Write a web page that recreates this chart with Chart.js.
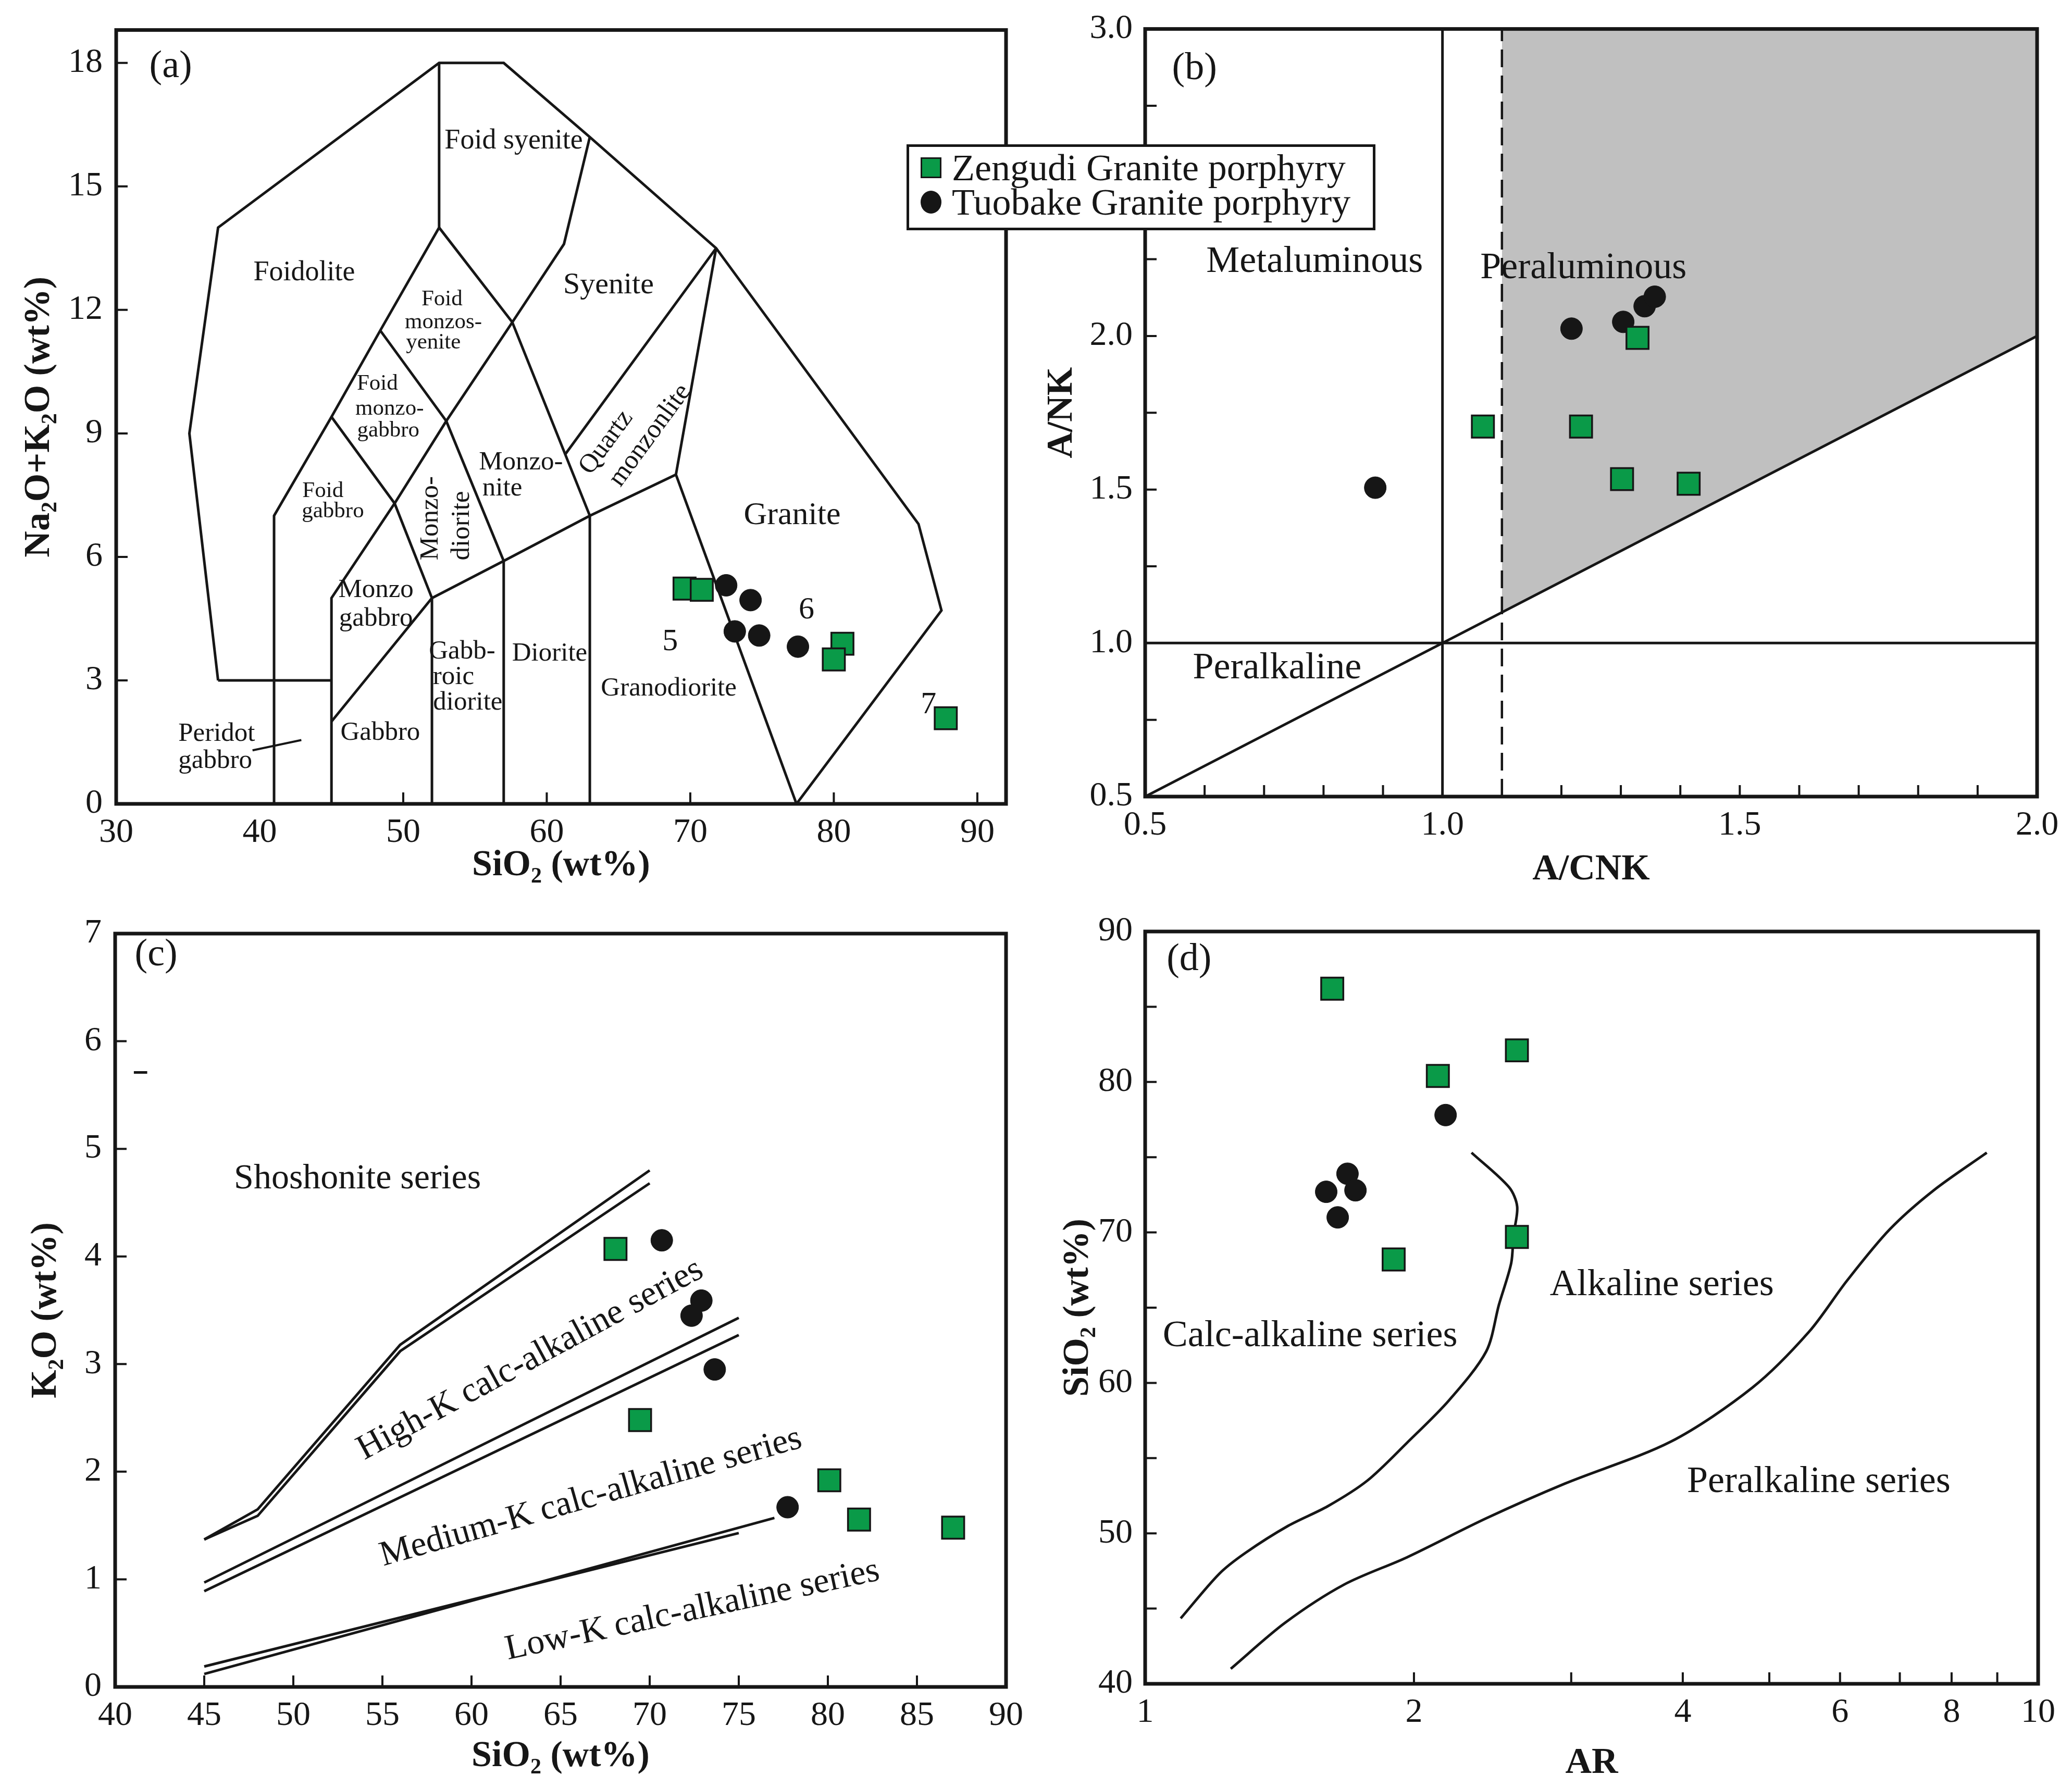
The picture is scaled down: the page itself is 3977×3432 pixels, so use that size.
<!DOCTYPE html>
<html>
<head>
<meta charset="utf-8">
<script src="https://cdn.jsdelivr.net/npm/chart.js@4.4.1/dist/chart.umd.min.js"></script>
<style>
  html, body { margin: 0; padding: 0; background: #fff; }
  body { width: 3977px; height: 3432px; position: relative; overflow: hidden; font-family: "Liberation Serif", "Times New Roman", serif; color: #161616; }
  .panel { position: absolute; }
  #legend { position: absolute; left: 1740px; top: 277px; width: 900px; height: 165px; box-sizing: border-box;
            border: 5px solid #161616; background: #fff; padding-top: 7px; }
  #legend .row { height: 66px; display: flex; align-items: center; font-size: 72px; white-space: nowrap; }
  #legend .mk { width: 40px; height: 40px; margin: 0 20px 0 22px; box-sizing: border-box; flex: none; }
  #legend .sq { background: #0a9a48; border: 3px solid #161616; }
  #legend .ci { background: #161616; border-radius: 50%; height: 44px; }
</style>
</head>
<body>
<div class="panel" style="left:0;top:0"><canvas id="chA" width="1988" height="1716"></canvas></div>
<div class="panel" style="left:1988px;top:0"><canvas id="chB" width="1989" height="1716"></canvas></div>
<div class="panel" style="left:0;top:1716px"><canvas id="chC" width="1988" height="1716"></canvas></div>
<div class="panel" style="left:1988px;top:1716px"><canvas id="chD" width="1989" height="1716"></canvas></div>
<div id="legend">
  <div class="row"><span class="mk sq"></span>Zengudi Granite porphyry</div>
  <div class="row"><span class="mk ci"></span>Tuobake Granite porphyry</div>
</div>
<script>
// ---- (a) TAS: SiO2 vs Na2O+K2O ----
const tasZengudiSiO2 = [69.6, 70.8, 80.6, 80.0, 87.8];
const tasZengudiAlk  = [5.23, 5.20, 3.89, 3.51, 2.08];
const tasTuobakeSiO2 = [72.5, 74.2, 73.1, 74.8, 77.5];
const tasTuobakeAlk  = [5.31, 4.95, 4.19, 4.09, 3.82];
const tasOutline = [[37.1,3.0],[35.1,9.0],[37.1,14.0],[52.5,18.0],[57.0,18.0],[63.0,16.2],[71.8,13.5],[85.9,6.8],[87.5,4.7],[77.4,0]];
const tasFields = [
  [[37.1,3.0],[45,3.0]],
  [[41,0],[41,7],[45,9.4],[48.4,11.5],[52.5,14],[52.5,18]],
  [[52.5,14],[57.6,11.7],[61.2,13.6],[63,16.2]],
  [[48.4,11.5],[53,9.3],[57.6,11.7]],
  [[45,9.4],[49.4,7.3],[53,9.3]],
  [[49.4,7.3],[45,5],[45,0]],
  [[49.4,7.3],[52,5],[52,0]],
  [[45,2],[52,5],[57,5.9],[63,7],[69,8],[77.4,0]],
  [[53,9.3],[57,5.9],[57,0]],
  [[57.6,11.7],[63,7],[63,0]],
  [[61.3,8.5],[71.8,13.5]],
  [[69,8],[71.8,13.5]]
];
const tasPointer = [[39.5,1.3],[42.9,1.55]];
const tasXTicks = [30, 40, 50, 60, 70, 80, 90];
const tasYTicks = [0, 3, 6, 9, 12, 15, 18];

// ---- (b) A/CNK vs A/NK ----
const ancZengudiACNK = [1.068, 1.233, 1.328, 1.302, 1.414];
const ancZengudiANK  = [1.705, 1.705, 1.994, 1.534, 1.519];
const ancTuobakeACNK = [0.887, 1.217, 1.304, 1.340, 1.357];
const ancTuobakeANK  = [1.506, 2.024, 2.046, 2.097, 2.128];
const ancDiagonal = [[0.5,0.5],[2.0,2.0]];
const ancShadeEdge = [[1.1,1.1],[2.0,2.0]];
const ancHorizontal = [[0.5,1.0],[2.0,1.0]];
const ancVertical = [[1.0,0.5],[1.0,3.0]];
const ancDashed = [[1.1,0.5],[1.1,3.0]];
const ancXTicks = [0.5, 1.0, 1.5, 2.0];
const ancYTicks = [0.5, 1.0, 1.5, 2.0, 2.5, 3.0];

// ---- (c) SiO2 vs K2O ----
const kZengudiSiO2 = [68.08, 69.46, 80.08, 81.75, 87.03];
const kZengudiK2O  = [4.07, 2.48, 1.92, 1.555, 1.48];
const kTuobakeSiO2 = [70.68, 72.90, 72.35, 73.65, 77.74];
const kTuobakeK2O  = [4.15, 3.59, 3.45, 2.95, 1.67];
const kSeriesLines = [
  [[45,1.37],[48,1.65],[56,3.18],[70,4.80]],
  [[45,1.37],[48,1.59],[56,3.12],[70,4.68]],
  [[45,0.97],[75,3.43]],
  [[45,0.89],[75,3.27]],
  [[45,0.19],[75,1.43]],
  [[45,0.12],[77,1.57]]
];
const kDash = [[41.05,5.71],[41.8,5.71]];
const kXTicks = [40, 45, 50, 55, 60, 65, 70, 75, 80, 85, 90];
const kYTicks = [0, 1, 2, 3, 4, 5, 6, 7];

// ---- (d) AR vs SiO2 ----
const arZengudi     = [1.62, 2.127, 2.608, 2.608, 1.898];
const arZengudiSiO2 = [86.2, 80.4, 82.1, 69.7, 68.2];
const arTuobake     = [2.17, 1.595, 1.685, 1.72, 1.643];
const arTuobakeSiO2 = [77.8, 72.7, 73.9, 72.8, 71.0];
const arAlkalineCurve = [[1.096,44.35],[1.21,47.3],[1.295,48.7],[1.446,50.5],[1.601,51.8],[1.773,53.5],[1.963,56.0],[2.19,58.85],[2.41,62.1],[2.49,65.2],[2.57,67.96],[2.585,69.8],[2.61,71.7],[2.556,73.0],[2.32,75.3]];
const arPeralkCurve = [[1.247,41.0],[1.434,44.05],[1.671,46.6],[1.963,48.4],[2.41,51.0],[2.95,53.3],[3.88,56.1],[4.79,59.7],[5.54,63.4],[6.11,66.8],[6.82,70.2],[7.64,72.8],[8.76,75.3]];
const arXTicks = [1, 2, 4, 6, 8, 10];
const arYTicks = [40, 50, 60, 70, 80, 90];

const FONT = '"Liberation Serif", "Times New Roman", serif';
const INK = '#161616';
const GREEN = '#0a9a48';

function line(pts, extra) {
  return Object.assign({
    data: pts.map(p => ({ x: p[0], y: p[1] })),
    showLine: true, pointRadius: 0, pointHoverRadius: 0,
    borderColor: INK, borderWidth: 5, fill: false, tension: 0, order: 2
  }, extra || {});
}
function markers(xs, ys, square) {
  return {
    data: xs.map((x, i) => ({ x: x, y: ys[i] })),
    pointStyle: square ? 'rect' : 'circle',
    pointRadius: square ? 30 : 21,
    backgroundColor: square ? GREEN : INK,
    borderColor: INK, borderWidth: square ? 3.5 : 1,
    showLine: false, order: 0
  };
}
function axis(o) {
  return {
    type: o.type || 'linear', min: o.min, max: o.max,
    grid: { display: false }, border: { display: false },
    afterBuildTicks: s => { s.ticks = o.ticks.map(v => ({ value: v })); },
    afterFit: s => { if (s.isHorizontal()) s.height = o.size; else s.width = o.size; },
    ticks: { color: INK, font: { family: FONT, size: 66 }, padding: o.pad, autoSkip: false, maxRotation: 0,
             callback: o.fmt || (v => String(v)) },
    title: { display: true, text: o.title, color: INK, font: { family: FONT, size: 70, weight: 'bold' }, padding: o.tpad }
  };
}

// field names, drawn after the grey fill so they stay visible
const notesPlugin = {
  id: 'notes',
  afterDatasetsDraw(chart, args, opts) {
    const { ctx } = chart, x = chart.scales.x, y = chart.scales.y;
    ctx.save();
    ctx.fillStyle = INK; ctx.textAlign = 'center'; ctx.textBaseline = 'middle';
    (opts.items || []).forEach(n => {
      let ang = 0;
      if (n.along) {
        const a = n.along;
        ang = Math.atan2(y.getPixelForValue(a[3]) - y.getPixelForValue(a[1]), x.getPixelForValue(a[2]) - x.getPixelForValue(a[0]));
      }
      if (n.rot) ang = n.rot * Math.PI / 180;
      ctx.save();
      ctx.translate(x.getPixelForValue(n.x), y.getPixelForValue(n.y));
      ctx.rotate(ang);
      ctx.font = n.s + 'px ' + FONT;
      ctx.fillText(n.t, 0, 0);
      ctx.restore();
    });
    ctx.restore();
  }
};
// box round the plot and the small inward ticks
const framePlugin = {
  id: 'frame',
  afterDatasetsDraw(chart, args, opts) {
    const { ctx, chartArea: a } = chart, x = chart.scales.x, y = chart.scales.y;
    ctx.save();
    ctx.strokeStyle = INK; ctx.lineWidth = 4;
    ctx.beginPath();
    (opts.xt || []).forEach(v => { const p = x.getPixelForValue(v); ctx.moveTo(p, a.bottom); ctx.lineTo(p, a.bottom - 22); });
    (opts.yt || []).forEach(v => { const p = y.getPixelForValue(v); ctx.moveTo(a.left, p); ctx.lineTo(a.left + 22, p); });
    ctx.stroke();
    ctx.lineWidth = 7;
    ctx.strokeRect(a.left, a.top, a.right - a.left, a.bottom - a.top);
    ctx.restore();
  }
};
Chart.register(notesPlugin, framePlugin);

function panel(id, datasets, sx, sy, pad, notes, frame) {
  new Chart(document.getElementById(id), {
    type: 'scatter',
    data: { datasets: datasets },
    options: {
      responsive: false, animation: false, devicePixelRatio: 1,
      layout: { padding: { left: 0, top: pad.top, right: pad.right, bottom: 0 } },
      scales: { x: sx, y: sy },
      plugins: { legend: { display: false }, tooltip: { enabled: false }, notes: { items: notes }, frame: frame }
    }
  });
}

// (a)
panel('chA',
  [markers(tasZengudiSiO2, tasZengudiAlk, true), markers(tasTuobakeSiO2, tasTuobakeAlk, false),
   line(tasOutline)].concat(tasFields.map(f => line(f))).concat([line(tasPointer, { borderWidth: 4 })]),
  axis({ min: 30, max: 92, ticks: tasXTicks, size: 173, pad: 8, title: 'SiO₂ (wt%)', tpad: { top: 4, bottom: 12 } }),
  axis({ min: 0, max: 18.8, ticks: tasYTicks, size: 223, pad: 18, title: 'Na₂O+K₂O (wt%)', tpad: { top: 34, bottom: 4 } }),
  { top: 57, right: 57 },
  [
    { t: '(a)', x: 33.8, y: 17.9, s: 74 },
    { t: 'Foid syenite', x: 57.7, y: 16.1, s: 54 },
    { t: 'Foidolite', x: 43.1, y: 12.9, s: 54 },
    { t: 'Syenite', x: 64.3, y: 12.6, s: 58 },
    { t: 'Foid', x: 52.7, y: 12.25, s: 43 }, { t: 'monzos-', x: 52.8, y: 11.7, s: 43 }, { t: 'yenite', x: 52.1, y: 11.2, s: 43 },
    { t: 'Foid', x: 48.2, y: 10.2, s: 43 }, { t: 'monzo-', x: 49.05, y: 9.6, s: 43 }, { t: 'gabbro', x: 48.96, y: 9.06, s: 43 },
    { t: 'Foid', x: 44.4, y: 7.6, s: 43 }, { t: 'gabbro', x: 45.1, y: 7.1, s: 43 },
    { t: 'Monzo-', x: 58.2, y: 8.3, s: 51 }, { t: 'nite', x: 56.9, y: 7.66, s: 51 },
    { t: 'Monzo-', x: 51.9, y: 6.94, s: 51, rot: -90 }, { t: 'diorite', x: 54.1, y: 6.76, s: 51, rot: -90 },
    { t: 'Quartz', x: 64.15, y: 8.78, s: 51, along: [61.3, 8.5, 71.8, 13.5] },
    { t: 'monzonlite', x: 67.2, y: 8.95, s: 51, along: [61.3, 8.5, 71.8, 13.5] },
    { t: 'Granite', x: 77.1, y: 7.0, s: 62 },
    { t: 'Monzo', x: 48.1, y: 5.2, s: 51 }, { t: 'gabbro', x: 48.1, y: 4.5, s: 51 },
    { t: 'Gabb-', x: 54.1, y: 3.7, s: 51 }, { t: 'roic', x: 53.5, y: 3.08, s: 51 }, { t: 'diorite', x: 54.5, y: 2.46, s: 51 },
    { t: 'Diorite', x: 60.2, y: 3.65, s: 51 },
    { t: 'Granodiorite', x: 68.5, y: 2.8, s: 51 },
    { t: 'Peridot', x: 37.0, y: 1.7, s: 51 }, { t: 'gabbro', x: 36.9, y: 1.04, s: 51 },
    { t: 'Gabbro', x: 48.4, y: 1.73, s: 51 },
    { t: '5', x: 68.6, y: 3.93, s: 60 }, { t: '6', x: 78.1, y: 4.7, s: 60 }, { t: '7', x: 86.6, y: 2.4, s: 60 }
  ],
  { xt: [50, 60, 70, 80, 90], yt: [3, 6, 9, 12, 15, 18] }
);

// (b)
panel('chB',
  [markers(ancZengudiACNK, ancZengudiANK, true), markers(ancTuobakeACNK, ancTuobakeANK, false),
   line(ancShadeEdge, { fill: 'end', backgroundColor: '#c0c0c0', borderWidth: 0, order: 5 }),
   line(ancDiagonal), line(ancHorizontal), line(ancVertical),
   line(ancDashed, { borderDash: [34, 16], borderWidth: 4.5 })],
  axis({ min: 0.5, max: 2.0, ticks: ancXTicks, size: 187, pad: 8, title: 'A/CNK', tpad: { top: 4, bottom: 4 }, fmt: v => v.toFixed(1) }),
  axis({ min: 0.5, max: 3.0, ticks: ancYTicks, size: 210, pad: 16, title: 'A/NK', tpad: { top: 9, bottom: 4 }, fmt: v => v.toFixed(1) }),
  { top: 55, right: 67 },
  [
    { t: '(b)', x: 0.583, y: 2.87, s: 74 },
    { t: 'Metaluminous', x: 0.785, y: 2.24, s: 72 },
    { t: 'Peraluminous', x: 1.237, y: 2.22, s: 72 },
    { t: 'Peralkaline', x: 0.722, y: 0.917, s: 72 }
  ],
  { xt: [0.6, 0.7, 0.8, 0.9, 1.2, 1.3, 1.4, 1.5, 1.6, 1.7, 1.8, 1.9], yt: [0.75, 1.25, 1.5, 1.75, 2.0, 2.25, 2.5, 2.75] }
);

// (c)
panel('chC',
  [markers(kZengudiSiO2, kZengudiK2O, true), markers(kTuobakeSiO2, kTuobakeK2O, false)]
    .concat(kSeriesLines.map(l => line(l))).concat([line(kDash)]),
  axis({ min: 40, max: 90, ticks: kXTicks, size: 194, pad: 8, title: 'SiO₂ (wt%)', tpad: { top: 4, bottom: 18 } }),
  axis({ min: 0, max: 7, ticks: kYTicks, size: 221, pad: 18, title: 'K₂O (wt%)', tpad: { top: 47, bottom: 4 } }),
  { top: 76, right: 57 },
  [
    { t: '(c)', x: 42.3, y: 6.8, s: 74 },
    { t: 'Shoshonite series', x: 53.6, y: 4.72, s: 68 },
    { t: 'High-K calc-alkaline series', x: 63.3, y: 3.04, s: 68, along: [52.8, 2.10, 73.8, 3.98] },
    { t: 'Medium-K calc-alkaline series', x: 66.7, y: 1.76, s: 68, along: [53.9, 1.16, 79.5, 2.36] },
    { t: 'Low-K calc-alkaline series', x: 72.4, y: 0.71, s: 68, along: [60.95, 0.30, 83.8, 1.11] }
  ],
  { xt: [45, 50, 55, 60, 65, 70, 75, 80, 85], yt: [1, 2, 3, 4, 5, 6] }
);

// (d)
panel('chD',
  [markers(arZengudi, arZengudiSiO2, true), markers(arTuobake, arTuobakeSiO2, false),
   line(arAlkalineCurve, { tension: 0.3 }), line(arPeralkCurve, { tension: 0.3 })],
  axis({ type: 'logarithmic', min: 1, max: 10, ticks: arXTicks, size: 200, pad: 8, title: 'AR', tpad: { top: 4, bottom: 5 } }),
  axis({ min: 40, max: 90, ticks: arYTicks, size: 210, pad: 16, title: 'SiO₂ (wt%)', tpad: { top: 40, bottom: 4 } }),
  { top: 72, right: 65 },
  [
    { t: '(d)', x: 1.12, y: 88.1, s: 74 },
    { t: 'Calc-alkaline series', x: 1.53, y: 63.1, s: 72 },
    { t: 'Alkaline series', x: 3.79, y: 66.5, s: 72 },
    { t: 'Peralkaline series', x: 5.68, y: 53.4, s: 72 }
  ],
  { xt: [2, 3, 4, 5, 6, 7, 8, 9], yt: [45, 50, 55, 60, 65, 70, 75, 80, 85] }
);
</script>
</body>
</html>
